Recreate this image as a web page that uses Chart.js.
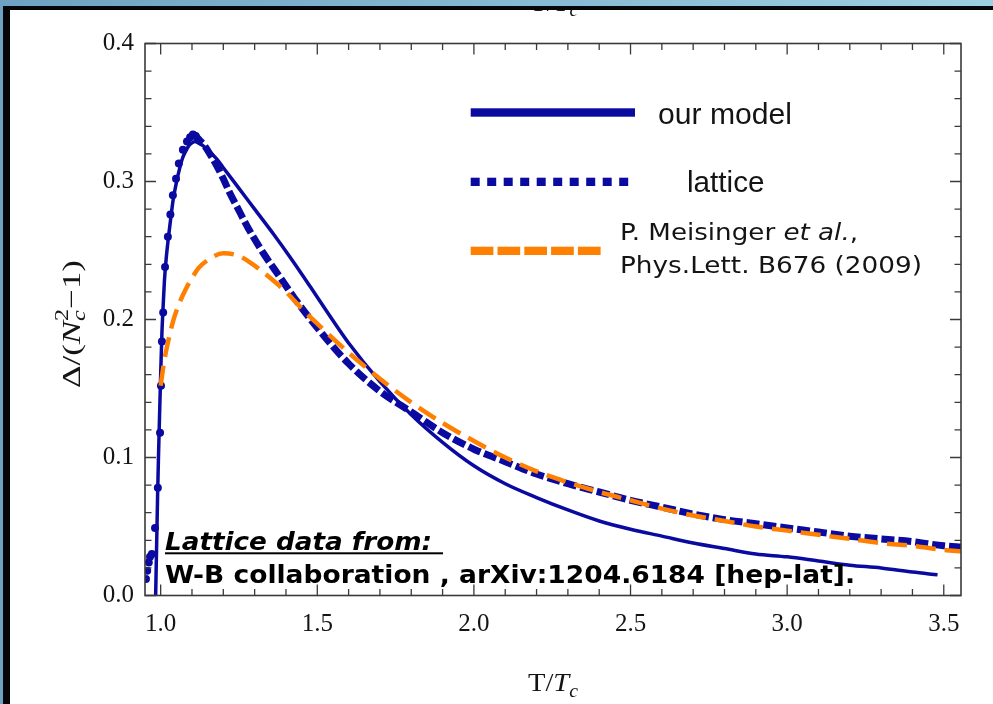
<!DOCTYPE html>
<html><head><meta charset="utf-8">
<script src="https://cdn.jsdelivr.net/npm/chart.js@4.4.1/dist/chart.umd.min.js"></script>
<style>
html,body{margin:0;padding:0;background:#fff;}
#wrap{position:relative;width:993px;height:704px;overflow:hidden;background:#fff;}
#c{position:absolute;left:0;top:0;}
.band{position:absolute;pointer-events:none;}
</style></head><body>
<div id="wrap">
<canvas id="c" width="993" height="704"></canvas>
<div class="band" style="left:0;top:0;width:993px;height:6px;background:linear-gradient(90deg,#6ea2c2,#9dd0e2);"></div>
<div class="band" style="left:0;top:6px;width:993px;height:4px;background:#060608;"></div>
<div class="band" style="left:0;top:0;width:3px;height:704px;background:#6ea2c2;"></div>
<div class="band" style="left:3px;top:6px;width:7px;height:698px;background:#060608;"></div>
</div>
<script>
// ---- data ----
const modelT = [0.984, 0.987, 0.99, 0.993, 0.997, 1.0, 1.004, 1.008, 1.012, 1.018, 1.024, 1.032, 1.04, 1.05, 1.06, 1.07, 1.08, 1.09, 1.1, 1.11, 1.12, 1.135, 1.15, 1.18, 1.2, 1.25, 1.3, 1.36, 1.42, 1.48, 1.53, 1.6, 1.7, 1.8, 1.9, 2.0, 2.1, 2.2, 2.3, 2.4, 2.5, 2.6, 2.7, 2.8, 2.9, 3.0, 3.1, 3.2, 3.3, 3.4, 3.48];
const modelY = [0.0, 0.035, 0.07, 0.1, 0.135, 0.16, 0.19, 0.21, 0.228, 0.245, 0.258, 0.273, 0.287, 0.299, 0.309, 0.317, 0.322, 0.326, 0.328, 0.329, 0.328, 0.326, 0.323, 0.316, 0.31, 0.295, 0.28, 0.262, 0.243, 0.223, 0.206, 0.183, 0.155, 0.131, 0.111, 0.094, 0.081, 0.071, 0.062, 0.054, 0.048, 0.043, 0.038, 0.034, 0.030, 0.028, 0.025, 0.022, 0.02, 0.017, 0.015];

const latticeT = [0.953, 0.957, 0.962, 0.966, 0.972, 0.982, 0.991, 0.998, 1.001, 1.004, 1.008, 1.014, 1.023, 1.031, 1.039, 1.049, 1.058, 1.071, 1.084, 1.094, 1.103, 1.112, 1.12, 1.14, 1.157, 1.18, 1.2, 1.22, 1.243, 1.28, 1.328, 1.38, 1.424, 1.5, 1.6, 1.7, 1.8, 1.9, 2.0, 2.1, 2.2, 2.3, 2.4, 2.5, 2.6, 2.7, 2.8, 2.9, 3.0, 3.1, 3.2, 3.3, 3.4, 3.5, 3.56];
const latticeY = [0.012, 0.018, 0.024, 0.028, 0.03, 0.049, 0.078, 0.118, 0.152, 0.184, 0.205, 0.238, 0.26, 0.276, 0.29, 0.302, 0.313, 0.323, 0.329, 0.332, 0.334, 0.333, 0.331, 0.326, 0.32, 0.311, 0.302, 0.292, 0.282, 0.266, 0.248, 0.231, 0.2165, 0.194, 0.168, 0.148, 0.133, 0.118, 0.106, 0.097, 0.088, 0.081, 0.075, 0.069, 0.064, 0.059, 0.055, 0.052, 0.049, 0.046, 0.043, 0.041, 0.039, 0.036, 0.035];

const meisT = [1.0, 1.01, 1.02, 1.04, 1.06, 1.08, 1.1, 1.12, 1.15, 1.2, 1.25, 1.3, 1.35, 1.4, 1.45, 1.5, 1.6, 1.7, 1.8, 1.9, 2.0, 2.1, 2.2, 2.3, 2.4, 2.5, 2.6, 2.7, 2.8, 2.9, 3.0, 3.1, 3.2, 3.3, 3.4, 3.5, 3.56];
const meisY = [0.152, 0.168, 0.18, 0.199, 0.212, 0.222, 0.23, 0.237, 0.243, 0.248, 0.246, 0.239, 0.23, 0.22, 0.208, 0.197, 0.176, 0.157, 0.14, 0.125, 0.112, 0.1, 0.09, 0.082, 0.075, 0.069, 0.063, 0.058, 0.054, 0.05, 0.047, 0.044, 0.041, 0.038, 0.036, 0.033, 0.032];

const xTickValues = [1.0, 1.5, 2.0, 2.5, 3.0, 3.5];
const yTickValues = [0.0, 0.1, 0.2, 0.3, 0.4];
const seriesNames = ['our model', 'lattice'];
const refLine1 = ['P. Meisinger ', 'et al.', ','];
const refLine2 = 'Phys.Lett. B676 (2009)';
const noteLine1 = 'Lattice data from:';
const noteLine2 = 'W-B collaboration , arXiv:1204.6184 [hep-lat].';

// ---- styles ----
const BLUE = '#0a0aa0';
const ORANGE = '#ff8000';
const TXT = '#141414';
const SERIF = "'Liberation Serif', 'Times New Roman', serif";
const SANS = "'Liberation Sans', Arial, sans-serif";
const DEJA = "'DejaVu Sans', sans-serif";

function pts(xs, ys) { return xs.map((x, i) => ({x: x, y: ys[i]})); }

function drawRich(ctx, parts, x, y, targetW) {
  let w = 0;
  parts.forEach(p => { ctx.font = p.font; p.w = ctx.measureText(p.t).width; if (p.adv !== false) w += p.w; });
  const sx = targetW ? targetW / w : 1;
  ctx.save();
  ctx.translate(x, y);
  ctx.scale(sx, 1);
  ctx.textAlign = 'left';
  ctx.textBaseline = 'alphabetic';
  let cx = 0;
  parts.forEach(p => {
    ctx.font = p.font;
    ctx.fillText(p.t, cx, p.dy || 0);
    if (p.adv !== false) cx += p.w;
  });
  ctx.restore();
  return w * sx;
}

const decor = {
  id: 'decor',
  afterDraw(chart) {
    const ctx = chart.ctx;
    const a = chart.chartArea;
    const xs = chart.scales.x, ys = chart.scales.y;
    ctx.save();
    // frame
    ctx.strokeStyle = '#3a3a3a';
    ctx.lineWidth = 1.6;
    ctx.strokeRect(a.left, a.top, a.right - a.left, a.bottom - a.top);
    // inner ticks
    ctx.lineWidth = 1.3;
    ctx.beginPath();
    for (let k = 0; k <= 25; k++) {
      const v = 1 + k * 0.1;
      const px = xs.getPixelForValue(v);
      const len = (k % 5 === 0) ? 11 : 6.5;
      ctx.moveTo(px, a.bottom); ctx.lineTo(px, a.bottom - len);
      ctx.moveTo(px, a.top); ctx.lineTo(px, a.top + len);
    }
    for (let k = 0; k <= 20; k++) {
      const v = k * 0.02;
      const py = ys.getPixelForValue(v);
      const len = (k % 5 === 0) ? 11 : 6.5;
      ctx.moveTo(a.left, py); ctx.lineTo(a.left + len, py);
      ctx.moveTo(a.right, py); ctx.lineTo(a.right - len, py);
    }
    ctx.stroke();

    // legend
    ctx.fillStyle = BLUE;
    ctx.fillRect(470.7, 108.3, 164.3, 8.4);
    for (let i = 0; i < 10; i++) ctx.fillRect(470.7 + i * 16.5, 177.7, 9, 8.3);
    ctx.fillStyle = ORANGE;
    for (let i = 0; i < 5; i++) ctx.fillRect(470.7 + i * 26.8, 246.7, 22.7, 8.3);

    ctx.fillStyle = TXT;
    drawRich(ctx, [{t: seriesNames[0], font: '30px ' + SANS}], 658, 124, 134);
    drawRich(ctx, [{t: seriesNames[1], font: '30px ' + SANS}], 687, 191.5, 77.5);
    drawRich(ctx, [
      {t: refLine1[0], font: '23px ' + DEJA},
      {t: refLine1[1], font: 'italic 23px ' + DEJA},
      {t: refLine1[2], font: '23px ' + DEJA}
    ], 620, 240, 238);
    drawRich(ctx, [{t: refLine2, font: '23px ' + DEJA}], 620, 273, 302);

    // note
    ctx.fillStyle = '#000';
    drawRich(ctx, [{t: noteLine1, font: 'italic bold 24px ' + DEJA}], 165, 549.5, 267);
    ctx.fillRect(165, 552.3, 278, 2);
    drawRich(ctx, [{t: noteLine2, font: 'bold 24px ' + DEJA}], 165, 583, 690);

    // axis titles
    ctx.fillStyle = TXT;
    drawRich(ctx, [
      {t: 'T/', font: '26px ' + SERIF},
      {t: 'T', font: 'italic 26px ' + SERIF},
      {t: 'c', font: 'italic 18px ' + SERIF, dy: 6}
    ], 528, 691, 50);
    // cut-off title at the top edge
    drawRich(ctx, [
      {t: 'T/', font: '26px ' + SERIF},
      {t: 'T', font: 'italic 26px ' + SERIF},
      {t: 'c', font: 'italic 18px ' + SERIF, dy: 5}
    ], 530, 11, 48);

    ctx.save();
    ctx.translate(80, 388);
    ctx.rotate(-Math.PI / 2);
    drawRich(ctx, [
      {t: '\u0394/(', font: '26px ' + SERIF},
      {t: 'N', font: 'italic 26px ' + SERIF},
      {t: 'c', font: 'italic 18px ' + SERIF, dy: 5, adv: false},
      {t: '2', font: '18px ' + SERIF, dy: -12},
      {t: '\u22121)', font: '26px ' + SERIF}
    ], 0, 0, 128);
    ctx.restore();
    ctx.restore();
  }
};

new Chart(document.getElementById('c'), {
  type: 'scatter',
  data: {
    datasets: [
      {
        label: 'P. Meisinger et al.',
        data: pts(meisT, meisY),
        showLine: true,
        borderColor: ORANGE,
        borderWidth: 4.5,
        borderDash: [20, 9],
        pointRadius: 0,
        cubicInterpolationMode: 'monotone',
        order: 0
      },
      {
        label: seriesNames[0],
        data: pts(modelT, modelY),
        showLine: true,
        borderColor: BLUE,
        borderWidth: 3.5,
        pointRadius: 0,
        cubicInterpolationMode: 'monotone',
        order: 1
      },
      {
        label: seriesNames[1],
        data: pts(latticeT, latticeY),
        showLine: true,
        borderColor: BLUE,
        backgroundColor: BLUE,
        borderWidth: 7,
        borderDash: [13, 4],
        segment: {
          borderColor: c => c.p0.parsed.x < 1.1 ? 'rgba(0,0,0,0)' : BLUE
        },
        pointRadius: c => (c.raw && c.raw.x < 1.12) ? 4 : 0,
        pointBorderWidth: 0,
        cubicInterpolationMode: 'monotone',
        order: 2
      }
    ]
  },
  options: {
    responsive: false,
    animation: false,
    devicePixelRatio: 1,
    layout: {padding: {left: 0, top: 43.5, right: 32, bottom: 0}},
    plugins: {legend: {display: false}, tooltip: {enabled: false}},
    scales: {
      x: {
        type: 'linear', min: 0.95, max: 3.555,
        afterBuildTicks: s => { s.ticks = xTickValues.map(v => ({value: v})); },
        afterFit: s => { s.height = 108.5; },
        grid: {display: false, drawTicks: false},
        border: {display: false},
        ticks: {padding: 14, autoSkip: false, maxRotation: 0, color: TXT,
          font: {family: SERIF, size: 25}, callback: v => Number(v).toFixed(1)}
      },
      y: {
        type: 'linear', min: 0, max: 0.4,
        afterBuildTicks: s => { s.ticks = yTickValues.map(v => ({value: v})); },
        afterFit: s => { s.width = 145; },
        grid: {display: false, drawTicks: false},
        border: {display: false},
        ticks: {padding: 11, autoSkip: false, color: TXT,
          font: {family: SERIF, size: 25}, callback: v => Number(v).toFixed(1)}
      }
    }
  },
  plugins: [decor]
});
</script>
</body></html>
